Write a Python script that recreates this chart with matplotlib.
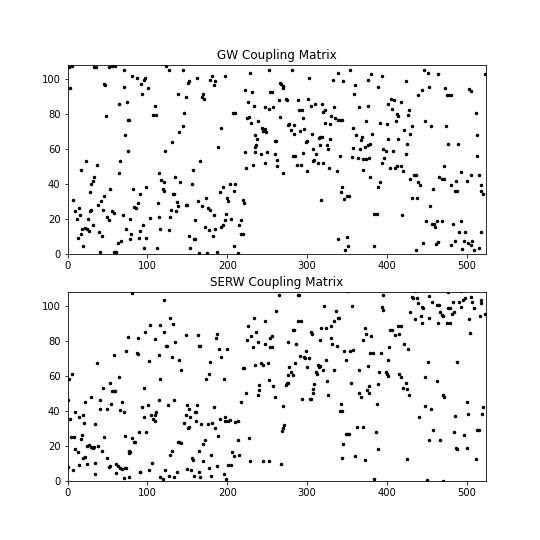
import numpy as np
import matplotlib.pyplot as plt

titles = ['GW Coupling Matrix', 'SERW Coupling Matrix']
x_max, y_max = 524, 108

# (column index, row index) of the nonzero entries
gw_pts = np.array([
    (1.7, 106.7), (5.8, 107.6), (33.3, 106.7), (35.4, 106.7), (52.5, 106.7), (56.3, 107.6), (60, 107.6),
    (2.9, 94.8), (46.3, 97.3), (47.5, 96.6), (70.4, 104.8), (80.8, 101.5), (87.1, 100.6), (95.4, 99.6),
    (96.7, 100.6), (92.1, 96.8), (100.8, 94.5), (71.3, 95.4), (93.3, 91.6), (64.6, 85.7), (74.2, 86.6),
    (48.3, 78.6), (76.3, 76.7), (77.5, 76.7), (109.2, 84.7), (107.1, 79.6), (111.3, 79.6), (72.5, 67.7),
    (75.4, 58.6), (17.1, 48.1), (23.3, 52.9), (37.1, 51), (66.3, 52.9), (65, 46), (115, 46.2), (117.5, 42),
    (120.4, 41), (33.8, 44.1), (31.7, 41.8), (30, 39.9), (28.3, 35.1), (6.7, 30.9), (53.8, 37), (81.7, 37),
    (98.8, 38), (90.4, 34.2), (88.3, 29), (83.8, 26.9), (85.8, 26.1), (45.4, 32.8), (42.1, 30), (38.3, 28.1),
    (14.2, 26.1), (10, 24.2), (12.1, 20), (15.4, 21.9), (27.9, 24.6), (29.6, 25.2), (44.6, 25.2), (55.8, 24.2),
    (58.8, 23.3), (49.6, 21), (51.7, 19.1), (69.2, 21.9), (78.8, 20), (102.9, 20.4), (113.3, 29), (114.2, 21),
    (120.4, 35.9), (119.6, 37), (25.4, 20), (24.6, 14.3), (26.7, 12.8), (31.7, 16.2), (12.9, 9), (16.3, 11.3),
    (18.3, 14.3), (21.7, 14.7), (40, 12.2), (43.3, 9.9), (73.3, 14.3), (80, 11.3), (78.8, 8.4), (91.3, 13.2),
    (94.2, 16.2), (90, 9), (98.3, 9), (115.4, 14.3), (19.6, 4.2), (40.4, 1.3), (58.8, 1.3), (60.8, 1.3),
    (62.9, 6.1), (67.1, 7.1), (96.3, 3.2), (112.1, 3.2),
    (123.8, 107.3), (127.5, 104.8), (144.2, 104.8), (252.9, 105.3), (228.8, 103.4), (162.1, 100.6),
    (152.5, 98.7), (150.4, 97.7), (177.9, 99.6), (180.8, 101.5), (185, 98.7), (183.8, 96.4), (196.7, 101.5),
    (138.3, 91.6), (148.3, 89.5), (169.2, 91.6), (168.3, 89.7), (171.3, 88.5), (221.7, 93.5), (230.8, 92.6),
    (253.8, 92.6), (255.8, 92.6), (225.8, 86.6), (232.9, 84.7), (246.7, 83.8), (251.7, 83), (256.7, 84),
    (146.3, 80.5), (207.1, 80.5), (209.2, 80.5), (226.7, 78.2), (224.6, 77.7), (230, 74.8), (238.3, 75.8),
    (144.6, 72.9), (140, 69.7), (192.1, 71.9), (243.3, 71.9), (247.5, 71.6), (245.4, 70.4), (248.8, 69.7),
    (130.8, 63.9), (122.5, 58.6), (187.9, 60.9), (234.2, 67.7), (237.1, 65.8), (235.8, 62.4), (235, 61.1),
    (222.5, 58), (234.2, 58), (242.5, 57.1), (250.4, 58), (165.4, 52.9), (156.7, 47.7), (231.7, 51),
    (222.9, 49), (247.5, 51.9), (135, 43.9), (141.3, 41), (155.8, 40.1), (203.8, 40.1), (210, 40.1),
    (194.2, 38), (190.4, 35.1), (208.8, 36.1), (131.7, 34.2), (133.8, 34.2), (137.1, 29.4), (138.3, 27.1),
    (130, 25.2), (135.8, 24.6), (148.8, 28.1), (149.6, 28.1), (162.9, 30), (168.3, 27.1), (173.8, 31.9),
    (175.8, 26.1), (178.8, 25.2), (199.6, 31.9), (200.8, 30.3), (219.2, 30.9), (220.4, 29), (127.9, 21),
    (182.9, 21.9), (198.8, 22.9), (197.5, 19.1), (204.6, 20), (194.2, 16.2), (192.1, 15.3), (217.5, 19.1),
    (215, 16.2), (159.2, 19.1), (172.5, 15.3), (176.7, 13.4), (185, 14.3), (127.5, 13.4), (217.5, 11.5),
    (219.2, 11.5), (181.7, 9.9), (151.7, 10.3), (157.9, 8.4), (160, 8.4), (152.9, 3.6), (207.9, 4.2),
    (164.2, 0.2), (174.6, 0.2), (187.1, 1.3), (213, 0.2),
    (281.7, 105.3), (302.9, 100.6), (332.1, 99.6), (339.2, 103.4), (345.4, 98.7), (353.8, 105.3), (360, 96.4),
    (376.7, 99.6), (380, 102.5), (266.3, 97.7), (267.5, 97.3), (269.2, 95.8), (269.6, 94.5), (359.2, 91.6),
    (264.2, 87.8), (273.8, 88.5), (274.6, 87.8), (288.3, 87.8), (301.7, 88.5), (310, 85.7), (304.6, 84.7),
    (319.2, 85.7), (290, 81.9), (293.3, 81.9), (322.5, 81.9), (320.4, 81.1), (333.8, 83.8), (365.4, 83.8),
    (375.8, 84.7), (266.3, 78.1), (295.4, 77.7), (330, 78.6), (335, 77.7), (339.2, 76.7), (341.3, 76.7),
    (344.2, 76.7), (277.5, 74.2), (275.8, 73.5), (283.8, 73.5), (280, 71), (283.8, 68.5), (291.3, 70.4),
    (296.3, 71.6), (322.5, 74.8), (328.8, 73.9), (357.9, 71.9), (373.3, 75.8), (306.7, 68.7), (316.3, 66.8),
    (315, 66.2), (318.3, 66.6), (328.8, 65.8), (361.3, 67.7), (368.3, 66.8), (381.7, 68.7), (367.1, 64.9),
    (299.6, 64.7), (298.8, 63.9), (259.2, 64.7), (261.3, 64.7), (316.3, 62), (325.4, 62), (326.7, 60.1),
    (307.9, 59.9), (357.1, 60.5), (366.3, 59.9), (372.5, 61.1), (375.8, 62), (378.8, 62.8), (260, 57.1),
    (294.6, 57.6), (311.3, 57.1), (341.3, 56.1), (355.8, 55.2), (364.2, 54.8), (370.4, 54.2), (373.8, 54.2),
    (377.9, 54.8), (282.1, 56.1), (285, 56.1), (262.9, 53.8), (262.1, 50), (287.1, 51), (292.1, 51),
    (307.1, 52.9), (308.8, 53.8), (313.1, 51.9), (320.4, 51.9), (327.5, 49), (300.4, 47.1), (337.1, 47.1),
    (270.4, 46.2), (370.4, 47.7), (378.8, 43.9), (343.3, 38), (342.1, 35.1), (346.3, 31.3), (349.6, 32.8),
    (352.5, 32.8), (317.1, 30.9), (383.3, 22.9), (387.5, 22.9), (338.3, 8.4), (349.6, 9.4), (351.7, 4.2),
    (347.5, 2.3), (383.2, 4.2),
    (389.2, 95.4), (393.3, 101.5), (446.7, 105.3), (451.7, 103.4), (464.2, 102.5), (423.3, 98.7),
    (452.5, 95.4), (443.3, 93.5), (439.2, 90.6), (472.5, 94.5), (474.6, 90.6), (477.5, 90.6), (480, 90.6),
    (502.9, 93.9), (504.6, 92.9), (522.5, 102.5), (405, 88.7), (409.2, 87.8), (400.8, 85.7), (417.5, 86.6),
    (405.8, 82.8), (412.1, 80), (414.2, 79), (427.5, 81.9), (425.8, 79.6), (511.3, 80.5), (391.3, 74.8),
    (399.6, 73.9), (410.8, 75.8), (430.8, 72.9), (421.3, 71), (428.8, 68.7), (447.5, 75.8), (455, 72.9),
    (473.3, 72.9), (401.7, 65.8), (414.2, 65.8), (424.6, 62.8), (475.8, 62.8), (489.2, 62.8), (513.3, 67.7),
    (394.6, 59.9), (398.8, 58.6), (407.9, 58.6), (396.7, 54.8), (394.2, 51.9), (423.8, 57.1), (513.3, 56.1),
    (403.8, 49), (410, 49), (412.1, 50), (417.5, 50), (419.6, 47.1), (471.7, 50), (433.3, 44.8), (436.3, 44.8),
    (428.8, 42.9), (439.2, 41), (441.3, 39.1), (465, 43.7), (468.3, 42.9), (471.3, 42.9), (492.5, 46.8),
    (505, 45.2), (500.8, 41.8), (515.4, 44.8), (486.3, 41.8), (480.8, 39.1), (485, 36.1), (487.9, 36.1),
    (391.3, 40.8), (388.3, 38), (457.9, 37), (517.5, 39.1), (518.3, 36.1), (520.4, 34.2), (431.7, 31.9),
    (437.9, 31.9), (453.8, 27.1), (419.2, 22.3), (448.3, 18.5), (456.7, 17.2), (459.2, 17.2), (462.1, 18.5),
    (468.3, 18.5), (460, 15.1), (482.9, 17.2), (492.1, 18.5), (490, 12.2), (497.5, 12.2), (518.3, 12.2),
    (445.4, 6.1), (461.3, 5.5), (463.3, 6.7), (435.8, 2.3), (480.8, 5.2), (485, 7.1), (494.2, 2.7),
    (496.7, 7.6), (501.7, 6.1), (506.7, 7.1), (505.8, 5.2), (509.2, 2.3), (515, 3.2),
])

serw_pts = np.array([
    (80.8, 107.1), (121.3, 103.3), (75.4, 82), (116.3, 89.2), (103.8, 89.2), (97.5, 84.9), (120.4, 84.9),
    (109.2, 81.1), (123.8, 77.2), (88.3, 81.7), (58.8, 72), (73.8, 74.3), (87.1, 73), (88.3, 72.4),
    (102.5, 68.1), (114.2, 72), (37.1, 67.2), (5.8, 60.8), (1.7, 57.9), (64.2, 59.3), (53.8, 56), (44.6, 53.1),
    (55.8, 51.2), (57.9, 51.2), (60, 51.2), (96.3, 53.1), (115.4, 57.9), (29.6, 47.9), (41.3, 46.3),
    (22.5, 45), (55, 44), (68.3, 45), (0.3, 46.3), (2.9, 35.3), (8.8, 39), (14.2, 36.3), (19.6, 37.3),
    (20.4, 32.8), (40.4, 40.9), (49.6, 40.9), (66.3, 40.2), (70.4, 39), (93.3, 42.1), (95.4, 36.1),
    (100.4, 43.1), (104.6, 37.3), (109.2, 34.2), (107.1, 35.3), (110, 37.6), (111.3, 39.2), (114.2, 46.1),
    (35, 32.2), (4.6, 25.1), (7.9, 25.1), (10, 18), (12.9, 16.4), (17.1, 23.7), (18.3, 26.1), (19.2, 13.1),
    (21.3, 13.7), (23.8, 19.9), (26.7, 20.3), (28.8, 19.3), (31.7, 18.9), (32.9, 19.3), (37.9, 19.9),
    (43.3, 17), (46.3, 24.7), (72.5, 25.7), (80.8, 24.1), (82.9, 22.2), (85, 22.2), (89.2, 28), (98.8, 28),
    (76.7, 17), (77.5, 16), (78.8, 16.4), (0.8, 7.7), (6.7, 6.2), (15, 8.7), (23.8, 9.7), (34.2, 10),
    (35, 3.5), (49.6, 13.1), (51.7, 7.7), (52.9, 8.1), (61.3, 9.7), (62.9, 8.1), (66.3, 7.1), (68.3, 6.8),
    (71.7, 7.1), (73.8, 7.1), (70.4, 1.4), (76.7, 2.3), (61.3, 4.4), (90.4, 4.8), (91.3, 4.8), (101.7, 6.2),
    (105.8, 10), (115.4, 1.9), (119.6, 1), (122.5, 6.2), (127.5, 2.9),
    (128.8, 92.7), (131.7, 89.4), (124.6, 77.2), (135, 79.2), (148.3, 83), (162.9, 83), (165, 77.2),
    (166.3, 77.2), (185.8, 81.7), (187.1, 83.6), (130.8, 70.5), (140, 69.1), (142.1, 63.1), (190, 75.3),
    (199.6, 75.3), (178.8, 68), (192.1, 70.5), (177.5, 61.2), (173.3, 58.3), (196.3, 58.3), (225.8, 88.4),
    (232.9, 93.2), (247.5, 91.3), (229.6, 82.4), (235.8, 84.9), (224.6, 80.1), (232.1, 76.3), (238.3, 79.2),
    (246.7, 78.2), (253.8, 81.7), (255.8, 82.4), (253.8, 76.3), (255.8, 76.3), (219.2, 64.1), (220.4, 64.1),
    (235, 66.2), (242.5, 67), (244.2, 66.2), (250.8, 67.2), (240.4, 54.4), (239.2, 51.7), (238.3, 49.2),
    (251.7, 57.3), (223.8, 50.2), (217.1, 45), (125.8, 43), (132.9, 45.9), (149.6, 43.4), (152.5, 41.1),
    (162.1, 43), (159.2, 39.2), (160.8, 39.2), (148.8, 37.6), (182.9, 42.1), (153.8, 36.3), (145.4, 33.2),
    (152.5, 30.5), (150.8, 29.9), (160.8, 34.2), (167.5, 32.2), (175.8, 32.2), (180.8, 33.2), (184.2, 29.9),
    (191.3, 35.1), (196.7, 36.1), (197.5, 34.2), (200.4, 34.2), (202.9, 34.7), (209.2, 33.4), (213.3, 34.2),
    (188.3, 25.7), (137.9, 22.2), (140, 22.2), (142.5, 21.6), (130.8, 16.8), (128, 14.9), (171.7, 23.2),
    (169.6, 20.8), (165, 17), (212.9, 23.2), (227.5, 24.1), (180, 14.9), (155.8, 12.9), (156.7, 12),
    (169.2, 11), (205.8, 16.4), (208.8, 14.1), (215, 14.9), (200.4, 9.1), (205, 9.1), (228.8, 11),
    (244.2, 11), (252.5, 11), (132.9, 1.9), (137.1, 4.8), (149.6, 6.8), (155, 6.2), (164.2, 4.8),
    (157.9, 2.5), (166.3, 1.9), (176.7, 7.1), (187.1, 8.1), (180, 2.5), (195.4, 3.9), (198.8, 1),
    (265, 106.2), (288.3, 106.2), (290, 106.2), (351.7, 108.1), (321.3, 100), (355.8, 100), (261.3, 97.1),
    (335.8, 97.1), (339.2, 93.2), (340, 92.7), (333.8, 91.1), (329.6, 88.2), (323.8, 87.3), (317.1, 87.3),
    (288.3, 91.1), (292.1, 91.1), (282.1, 86.3), (284.2, 86.3), (305, 84.9), (306.7, 84), (316.3, 80.1),
    (330, 81.5), (331.7, 78.2), (337.9, 77.2), (276.7, 79.2), (286.3, 78.2), (369.6, 80.1), (372.1, 87.3),
    (373.8, 84), (380.4, 82.4), (346.3, 73.9), (353.8, 73.9), (357.9, 74.7), (378.8, 73), (382.9, 73),
    (298.8, 73.9), (290.8, 71.4), (295.8, 70.8), (297.9, 70.1), (302.9, 70.1), (323.8, 68.9), (348.8, 68.9),
    (285, 67), (277.9, 65.1), (280, 61.8), (275.8, 60.2), (282.9, 60.2), (299.6, 65.1), (313.3, 66.2),
    (315, 65.1), (316.3, 65.3), (320.4, 63.1), (311.3, 61.8), (312.1, 61.2), (333.8, 63.1), (365, 63.1),
    (375.8, 65.3), (274.6, 55.6), (273.8, 54.4), (276.7, 56), (257.1, 54.1), (309.2, 55), (307.1, 52.1),
    (307.9, 49.8), (325.4, 56.9), (326.7, 49.2), (355, 56), (365.4, 50.2), (367.1, 47.9), (377.9, 54.1),
    (374.6, 51.5), (377.5, 49.8), (259.2, 47.9), (293.3, 46.9), (303.8, 46.9), (304.6, 46.9), (270.4, 42.9),
    (342.1, 44), (341.3, 40), (344.2, 40), (271.3, 31.9), (269.2, 29.9), (268.3, 28.6), (348.8, 26.6),
    (351.7, 26.6), (353, 26.6), (362.1, 30.9), (370.4, 30.9), (344.6, 20.8), (267.5, 9.7), (343.8, 12.9),
    (359.6, 13.9), (372.9, 12), (383.8, 1),
    (395.4, 106.2), (394.2, 99.4), (394.6, 97.5), (430.8, 105.2), (432.9, 104.2), (437.1, 104.2),
    (435, 108.1), (437.9, 108.7), (449.6, 108.7), (452.5, 105.6), (455.8, 102.3), (439.2, 101.4),
    (443.3, 99.4), (445.4, 98.5), (462.9, 100.4), (465, 100.4), (466.3, 96.1), (468.3, 94.6), (470.4, 94.2),
    (476.7, 98.5), (478.8, 98.5), (481.7, 95.2), (483.8, 96.5), (476.7, 107.5), (482.9, 102.3),
    (493.3, 108.1), (490.4, 102.3), (495.4, 103.3), (497.5, 104.2), (493.3, 99.4), (505.8, 105.2),
    (506.7, 102.3), (509.2, 98.5), (517.5, 103.3), (518.3, 101.4), (516.3, 94.2), (522.5, 95.2),
    (428.8, 96.1), (435, 92.3), (442.1, 94.2), (452.5, 93.2), (444.2, 90.2), (464.2, 90.2), (474.6, 90.2),
    (478.8, 90.2), (502.9, 92.3), (503.8, 84.4), (403.8, 86.3), (406.7, 86.3), (410, 83), (414.2, 88.2),
    (417.1, 88.2), (415, 84), (421.7, 78.2), (425.8, 75.3), (402.5, 76.3), (392.1, 73), (400.8, 69.1),
    (451.7, 68), (488.3, 68), (390.4, 61.8), (398.3, 61.8), (399.6, 60.8), (401.7, 59.8), (415.4, 61.2),
    (417.5, 59.3), (447.5, 59.3), (389.2, 55), (423.3, 56), (420.4, 53.1), (424.6, 52.1), (427.5, 49.2),
    (462.1, 56.9), (469.6, 49.2), (471.3, 47.9), (387.1, 44), (447.5, 42.5), (454.6, 41.1), (499.6, 45),
    (520.4, 41.9), (519.2, 38), (440.4, 36.1), (485, 37.1), (501.7, 38.2), (386.3, 28), (457.9, 29),
    (484.2, 28), (496.3, 26.1), (513.3, 29), (515, 29), (388.3, 18), (452.9, 23.2), (466.3, 23.2),
    (486.3, 18.9), (487.9, 18), (500.8, 18.9), (424.6, 12.2), (512.1, 12.2), (450.4, 0.4), (470.4, 0),
])

fig, axes = plt.subplots(2, 1, figsize=(7.5, 7.5), dpi=72)
for ax, pts, title in zip(axes, [gw_pts, serw_pts], titles):
    ax.plot(pts[:, 0], pts[:, 1], 'k.', markersize=5)
    ax.set_xlim(0, x_max)
    ax.set_ylim(0, y_max)
    ax.set_title(title)

fig.savefig('out.png')
